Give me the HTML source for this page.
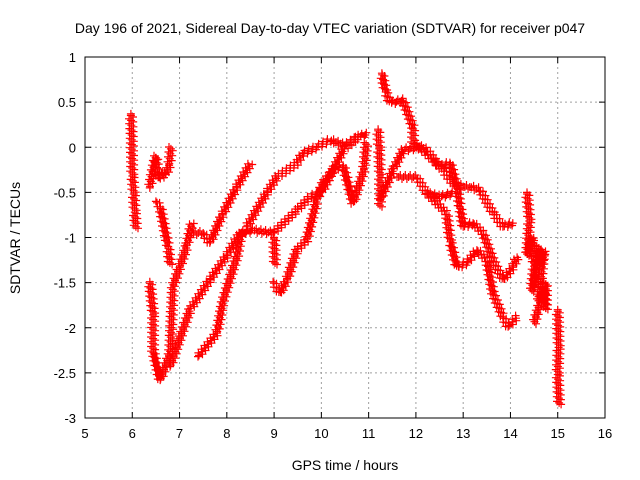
<!DOCTYPE html>
<html><head><meta charset="utf-8"><style>
body{margin:0;background:#fff}
svg{display:block;font-family:"Liberation Sans",sans-serif}
</style></head><body>
<svg id="chart" width="640" height="480">
<text x="330" y="33" font-size="14" text-anchor="middle">Day 196 of 2021, Sidereal Day-to-day VTEC variation (SDTVAR) for receiver p047</text>
<text x="345" y="470" font-size="14" text-anchor="middle">GPS time / hours</text>
<text transform="translate(20,238) rotate(-90)" font-size="14" text-anchor="middle">SDTVAR / TECUs</text>
<g id="grid"></g><g id="marks"></g><g id="axes"></g>
</svg>
<script>
const xTicks=[5,6,7,8,9,10,11,12,13,14,15,16];
const yTicks=[1,0.5,0,-0.5,-1,-1.5,-2,-2.5,-3];
const yTickLabels=["1","0.5","0","-0.5","-1","-1.5","-2","-2.5","-3"];
const trackA=[[5.97,0.37],[5.99,0.1],[6.0,-0.3],[6.03,-0.5],[6.05,-0.7],[6.08,-0.9]];
const trackB=[[6.37,-0.45],[6.42,-0.29],[6.5,-0.1],[6.55,-0.35],[6.62,-0.28],[6.7,-0.32],[6.78,-0.2],[6.82,0.0]];
const trackB2=[[6.5,-0.6],[6.59,-0.66],[6.69,-0.92],[6.76,-1.1],[6.8,-1.3]];
const trackC=[[6.37,-1.49],[6.44,-1.84],[6.44,-2.26],[6.59,-2.58],[6.8,-2.28],[6.86,-1.54],[7.0,-1.33],[7.15,-1.1],[7.26,-0.84]];
const trackC2=[[7.26,-0.95],[7.5,-0.95],[7.64,-1.06],[7.9,-0.75],[8.2,-0.45],[8.5,-0.18]];
const trackD=[[6.8,-2.43],[7.22,-1.8],[7.64,-1.47],[8.0,-1.2],[8.28,-0.95],[8.55,-0.92],[8.98,-0.95],[9.48,-0.7],[9.76,-0.55],[10.0,-0.5],[10.25,-0.25],[10.46,-0.03],[10.75,0.1]];
const trackE=[[8.42,-0.88],[8.85,-0.5],[9.06,-0.33],[9.48,-0.18],[9.6,-0.07],[9.9,0.0],[10.18,0.08],[10.5,0.02],[10.8,0.12],[10.96,0.14]];
const trackF=[[7.39,-2.32],[7.79,-2.06],[7.92,-1.7],[8.22,-1.2],[8.3,-0.95]];
const trackG=[[8.98,-1.49],[9.12,-1.62],[9.27,-1.47],[9.48,-1.14],[9.69,-1.03],[9.9,-0.59],[10.03,-0.4],[10.25,-0.25],[10.46,-0.2],[10.67,-0.62],[10.9,-0.25],[10.95,0.05]];
const trackG2=[[9.0,-1.0],[9.02,-1.3]];
const trackH=[[11.2,0.2],[11.22,0.0],[11.24,-0.3],[11.24,-0.66]];
const trackI=[[11.28,0.82],[11.35,0.63],[11.45,0.49],[11.73,0.52],[11.94,0.22],[11.94,0.04],[12.23,-0.03],[12.51,-0.22],[12.72,-0.17],[12.87,-0.44],[12.93,-0.66],[13.0,-0.88],[13.21,-0.84],[13.42,-0.95],[13.63,-1.25],[13.84,-1.47],[14.05,-1.33],[14.14,-1.22]];
const trackJ=[[11.24,-0.58],[11.52,-0.25],[11.73,-0.03],[12.08,0.0],[12.3,-0.11],[12.57,-0.25],[12.78,-0.4],[13.0,-0.44],[13.14,-0.44],[13.35,-0.47],[13.63,-0.73],[13.84,-0.88],[14.05,-0.84]];
const trackK=[[11.6,-0.33],[12.02,-0.33],[12.23,-0.51],[12.51,-0.55],[12.78,-0.51]];
const trackL=[[12.23,-0.51],[12.65,-0.73],[12.72,-1.03],[12.87,-1.33],[13.08,-1.28],[13.29,-1.14],[13.5,-1.25],[13.63,-1.62],[13.84,-1.88],[13.95,-1.99],[14.14,-1.88]];
const trackM=[[14.35,-0.5],[14.4,-0.8],[14.35,-1.2],[14.45,-1.0],[14.5,-1.3],[14.45,-1.6],[14.55,-1.4],[14.6,-1.1],[14.65,-1.3],[14.7,-1.15],[14.6,-1.7],[14.7,-1.6],[14.75,-1.8],[14.75,-1.5],[14.5,-1.95]];
const trackN=[[15.0,-1.8],[15.02,-2.2],[15.0,-2.5],[15.03,-2.85]];
const tracks=[trackA,trackB,trackB2,trackC,trackC2,trackD,trackE,trackF,trackG,trackG2,trackH,trackI,trackJ,trackK,trackL,trackM,trackN];

const L=85,R=605,T=57,B=418;
const sx=v=>L+(v-5)/(16-5)*(R-L);
const sy=v=>T+(1-v)/4*(B-T);
const NS="http://www.w3.org/2000/svg";
function mk(tag,attrs,parent){const e=document.createElementNS(NS,tag);for(const k in attrs)e.setAttribute(k,attrs[k]);parent.appendChild(e);return e;}
const grid=document.getElementById('grid'),axes=document.getElementById('axes'),marks=document.getElementById('marks');
xTicks.forEach((t,i)=>{const x=sx(t);
 if(i>0&&i<xTicks.length-1){const g=mk('line',{x1:x,x2:x,y1:T,y2:B,stroke:'#a0a0a0','stroke-dasharray':'2,3'},grid);}
 mk('line',{x1:x,x2:x,y1:B,y2:B-6,stroke:'#000'},axes);mk('line',{x1:x,x2:x,y1:T,y2:T+6,stroke:'#000'},axes);
 const tx=mk('text',{x:x,y:B+20,'font-size':13,'text-anchor':'middle'},axes);tx.textContent=t;
 });
yTicks.forEach((t,i)=>{const y=sy(t);
 if(i>0&&i<yTicks.length-1){const g=mk('line',{x1:L,x2:R,y1:y,y2:y,stroke:'#a0a0a0','stroke-dasharray':'2,3'},grid);}
 mk('line',{x1:L,x2:L+6,y1:y,y2:y,stroke:'#000'},axes);mk('line',{x1:R,x2:R-6,y1:y,y2:y,stroke:'#000'},axes);
 const tx=mk('text',{x:L-9,y:y+5,'font-size':13,'text-anchor':'end'},axes);tx.textContent=yTickLabels[i];
 });
const fr=mk('rect',{x:L,y:T,width:R-L,height:B-T,fill:'none',stroke:'#000'},axes);

let d='';
const h=4;
function plus(x,y){d+=`M${(x-h).toFixed(1)} ${y.toFixed(1)}h${2*h}M${x.toFixed(1)} ${(y-h).toFixed(1)}v${2*h}`;}
tracks.forEach(tr=>{
 for(let i=0;i<tr.length;i++){
  const x0=sx(tr[i][0]),y0=sy(tr[i][1]);
  if(i===0){plus(x0,y0);continue;}
  const xp=sx(tr[i-1][0]),yp=sy(tr[i-1][1]);
  const len=Math.hypot(x0-xp,y0-yp)||1,n=Math.max(1,Math.round(len/1.6));
  const nx=-(y0-yp)/len,ny=(x0-xp)/len;
  for(let k=1;k<=n;k++){const x=xp+(x0-xp)*k/n,y=yp+(y0-yp)*k/n;const o=[2,0,-2][k%3];plus(x+nx*o,y+ny*o);}
 }
});
const p=mk('path',{d:d,stroke:'#ff0000','stroke-width':1.2,fill:'none'},marks);


</script>
</body></html>
